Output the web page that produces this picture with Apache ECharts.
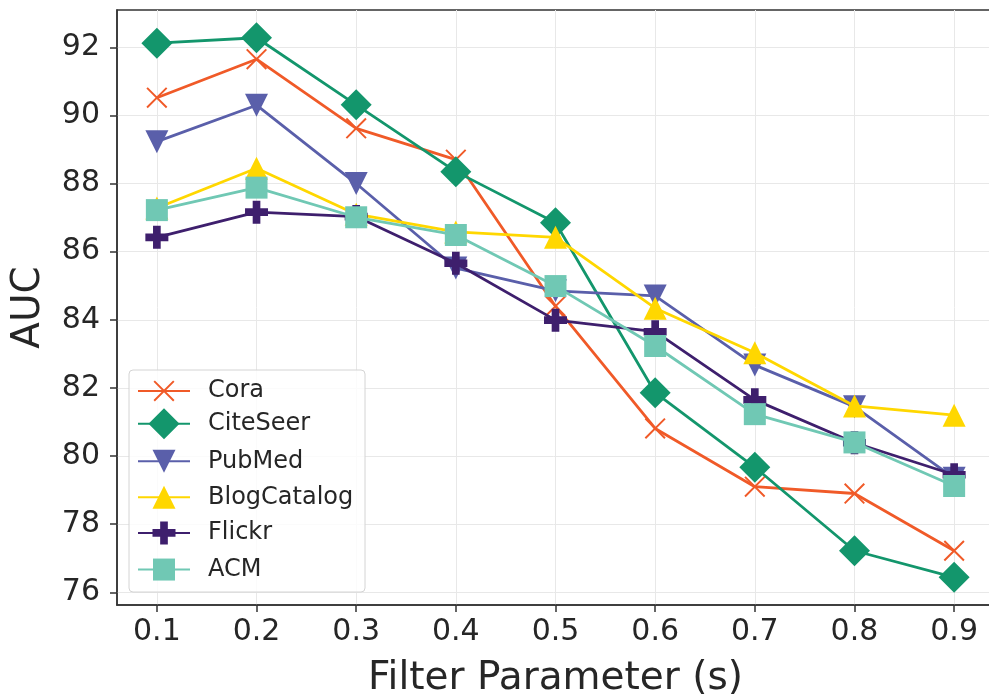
<!DOCTYPE html>
<html><head><meta charset="utf-8">
<script src="https://cdn.jsdelivr.net/npm/echarts@6/dist/echarts.min.js"></script>
<style>html,body{margin:0;padding:0;background:#fff}#c{width:989px;height:698px}</style>
</head><body><div id="c"></div>
<script>
// ---- data ----
const xValues = [0.1, 0.2, 0.3, 0.4, 0.5, 0.6, 0.7, 0.8, 0.9];
const seriesNames = ['Cora', 'CiteSeer', 'PubMed', 'BlogCatalog', 'Flickr', 'ACM'];
const cora        = [90.52, 91.65, 89.62, 88.70, 84.40, 80.81, 79.10, 78.90, 77.22];
const citeseer    = [92.12, 92.28, 90.31, 88.35, 86.85, 81.86, 79.67, 77.22, 76.44];
const pubmed      = [89.23, 90.30, 88.00, 85.52, 84.85, 84.70, 82.67, 81.45, 79.35];
const blogcatalog = [87.28, 88.45, 87.10, 86.58, 86.42, 84.34, 83.03, 81.47, 81.20];
const flickr      = [86.42, 87.16, 87.03, 85.66, 83.99, 83.65, 81.65, 80.39, 79.45];
const acm         = [87.22, 87.88, 87.01, 86.49, 84.99, 83.23, 81.23, 80.40, 79.12];
const yTicks = [76, 78, 80, 82, 84, 86, 88, 90, 92];
const xTicks = [0.1, 0.2, 0.3, 0.4, 0.5, 0.6, 0.7, 0.8, 0.9];

// ---- styles ----
const FONT = 'DejaVu Sans';
const TXT = '#262626';
const AX = '#333333';
const colors = ['#F05A28', '#13966C', '#5A5FAA', '#FFD700', '#3E1F6D', '#70C8B4'];
const symbols = [
  'path://M3.54,-3.54L103.54,96.46L96.46,103.54L-3.54,3.54Z M96.46,-3.54L103.54,3.54L3.54,103.54L-3.54,96.46Z',
  'diamond',
  'path://M0,0L20,0L10,20Z',
  'triangle',
  'path://M-1,-3L1,-3L1,-1L3,-1L3,1L1,1L1,3L-1,3L-1,1L-3,1L-3,-1L-1,-1Z',
  'rect'
];
const symbolSizes = [21, 31, 23, 23, 23, 22];
const legendCenters = [392, 427.7, 463.7, 499.7, 535.3, 571.3];
const allData = [cora, citeseer, pubmed, blogcatalog, flickr, acm];

const chart = echarts.init(document.getElementById('c'), null, {renderer: 'canvas'});

const series = seriesNames.map((name, i) => ({
  type: 'line',
  name: name,
  data: xValues.map((x, k) => [x, allData[i][k]]),
  symbol: symbols[i],
  symbolSize: symbolSizes[i],
  showAllSymbol: true,
  lineStyle: {width: 2.8, color: colors[i]},
  itemStyle: {color: colors[i]},
  emphasis: {disabled: true},
  z: 2 + i,
  animation: false
}));

const legends = seriesNames.map((name, i) => {
  const h = symbolSizes[i] / 0.8;
  return {
    data: [name],
    left: 137,
    top: legendCenters[i] - h / 2,
    itemWidth: 52,
    itemHeight: h,
    padding: 0,
    selectedMode: false,
    z: 50,
    textStyle: {fontSize: 24, color: TXT, fontFamily: FONT, padding: [0, 0, 0, 13]}
  };
});

const option = {
  backgroundColor: '#ffffff',
  animation: false,
  grid: {left: 117, top: 10, width: 877, height: 595, show: true, borderColor: AX, borderWidth: 1.5, backgroundColor: 'transparent', containLabel: false, outerBoundsMode: 'none'},
  xAxis: {
    type: 'value', min: 0.06, max: 0.94, splitNumber: 9,
    name: 'Filter Parameter (s)', nameLocation: 'middle', nameGap: 54,
    nameTextStyle: {fontSize: 39, color: TXT, fontFamily: FONT},
    axisLine: {show: true, onZero: false, lineStyle: {color: AX, width: 1.5}},
    axisTick: {show: true, length: 7, customValues: xTicks, lineStyle: {color: AX, width: 1.5}},
    axisLabel: {customValues: xTicks, formatter: v => Number(v).toFixed(1), fontSize: 30, color: TXT, fontFamily: FONT, margin: 12},
    splitLine: {show: true, lineStyle: {color: '#e8e8e8', width: 1}}
  },
  yAxis: {
    type: 'value', min: 75.627, max: 93.095, splitNumber: 8,
    name: 'AUC', nameLocation: 'middle', nameGap: 69,
    nameTextStyle: {fontSize: 39, color: TXT, fontFamily: FONT},
    axisLine: {show: true, onZero: false, lineStyle: {color: AX, width: 1.5}},
    axisTick: {show: true, length: 7, customValues: yTicks, lineStyle: {color: AX, width: 1.5}},
    axisLabel: {customValues: yTicks, formatter: v => String(Math.round(v)), fontSize: 30, color: TXT, fontFamily: FONT, margin: 17},
    splitLine: {show: true, lineStyle: {color: '#e8e8e8', width: 1}}
  },
  legend: legends,
  graphic: [{
    type: 'rect', z: 40,
    shape: {x: 129, y: 370, width: 236, height: 222, r: 4},
    style: {fill: 'rgba(255,255,255,0.8)', stroke: '#d4d4d4', lineWidth: 1}
  }],
  series: series
};
chart.setOption(option);
</script>
</body></html>
